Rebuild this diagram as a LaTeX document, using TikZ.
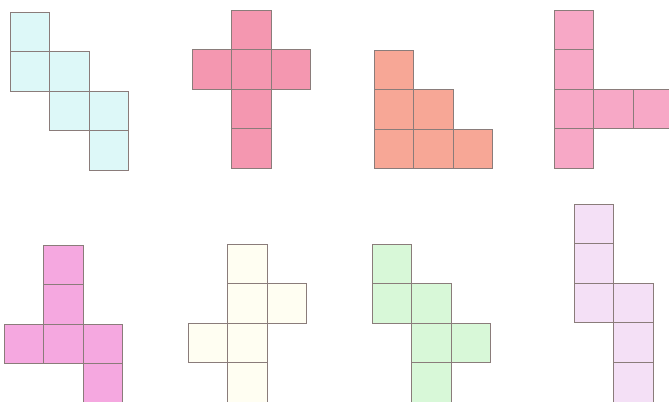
\documentclass[tikz,border=0pt]{standalone}
\usepackage{xcolor}
\usepackage{tikz}
\definecolor{edgegrey}{HTML}{8A7C7A}
\definecolor{netcyan}{HTML}{DDF8F8}
\definecolor{netred}{HTML}{F497B0}
\definecolor{netsalmon}{HTML}{F7A796}
\definecolor{netpink}{HTML}{F7A8C6}
\definecolor{netmagenta}{HTML}{F5A8E0}
\definecolor{netcream}{HTML}{FFFEF2}
\definecolor{netgreen}{HTML}{D8F8D8}
\definecolor{netlilac}{HTML}{F4E0F6}

\begin{document}
\begin{tikzpicture}[
  x=0.03cm, y=-0.03cm,
  face/.style={draw=edgegrey, line width=0.6pt},
  cyanface/.style={face, fill=netcyan},
  redface/.style={face, fill=netred},
  salmonface/.style={face, fill=netsalmon},
  pinkface/.style={face, fill=netpink},
  magentaface/.style={face, fill=netmagenta},
  creamface/.style={face, fill=netcream},
  greenface/.style={face, fill=netgreen},
  lilacface/.style={face, fill=netlilac}
]
  \useasboundingbox (0,0) rectangle (669,402);
  \def\side{39.6}

  % top row of nets
  \foreach \c/\r in {0/0,0/1,1/1,1/2,2/2,2/3}
    \draw[cyanface] ({10+\c*\side},{12+\r*\side}) rectangle ++(\side,\side);
  \foreach \c/\r in {1/0,0/1,1/1,2/1,1/2,1/3}
    \draw[redface] ({192+\c*\side},{10+\r*\side}) rectangle ++(\side,\side);
  \foreach \c/\r in {0/0,0/1,1/1,0/2,1/2,2/2}
    \draw[salmonface] ({374+\c*\side},{50+\r*\side}) rectangle ++(\side,\side);
  \foreach \c/\r in {0/0,0/1,0/2,1/2,2/2,0/3}
    \draw[pinkface] ({554+\c*\side},{10+\r*\side}) rectangle ++(\side,\side);

  % bottom row of nets
  \foreach \c/\r in {1/0,1/1,0/2,1/2,2/2,2/3}
    \draw[magentaface] ({4+\c*\side},{245+\r*\side}) rectangle ++(\side,\side);
  \foreach \c/\r in {1/0,1/1,2/1,0/2,1/2,1/3}
    \draw[creamface] ({188+\c*\side},{244+\r*\side}) rectangle ++(\side,\side);
  \foreach \c/\r in {0/0,0/1,1/1,1/2,2/2,1/3}
    \draw[greenface] ({372+\c*\side},{244+\r*\side}) rectangle ++(\side,\side);
  \foreach \c/\r in {0/0,0/1,0/2,1/2,1/3,1/4}
    \draw[lilacface] ({574+\c*\side},{204+\r*\side}) rectangle ++(\side,\side);
\end{tikzpicture}
\end{document}
